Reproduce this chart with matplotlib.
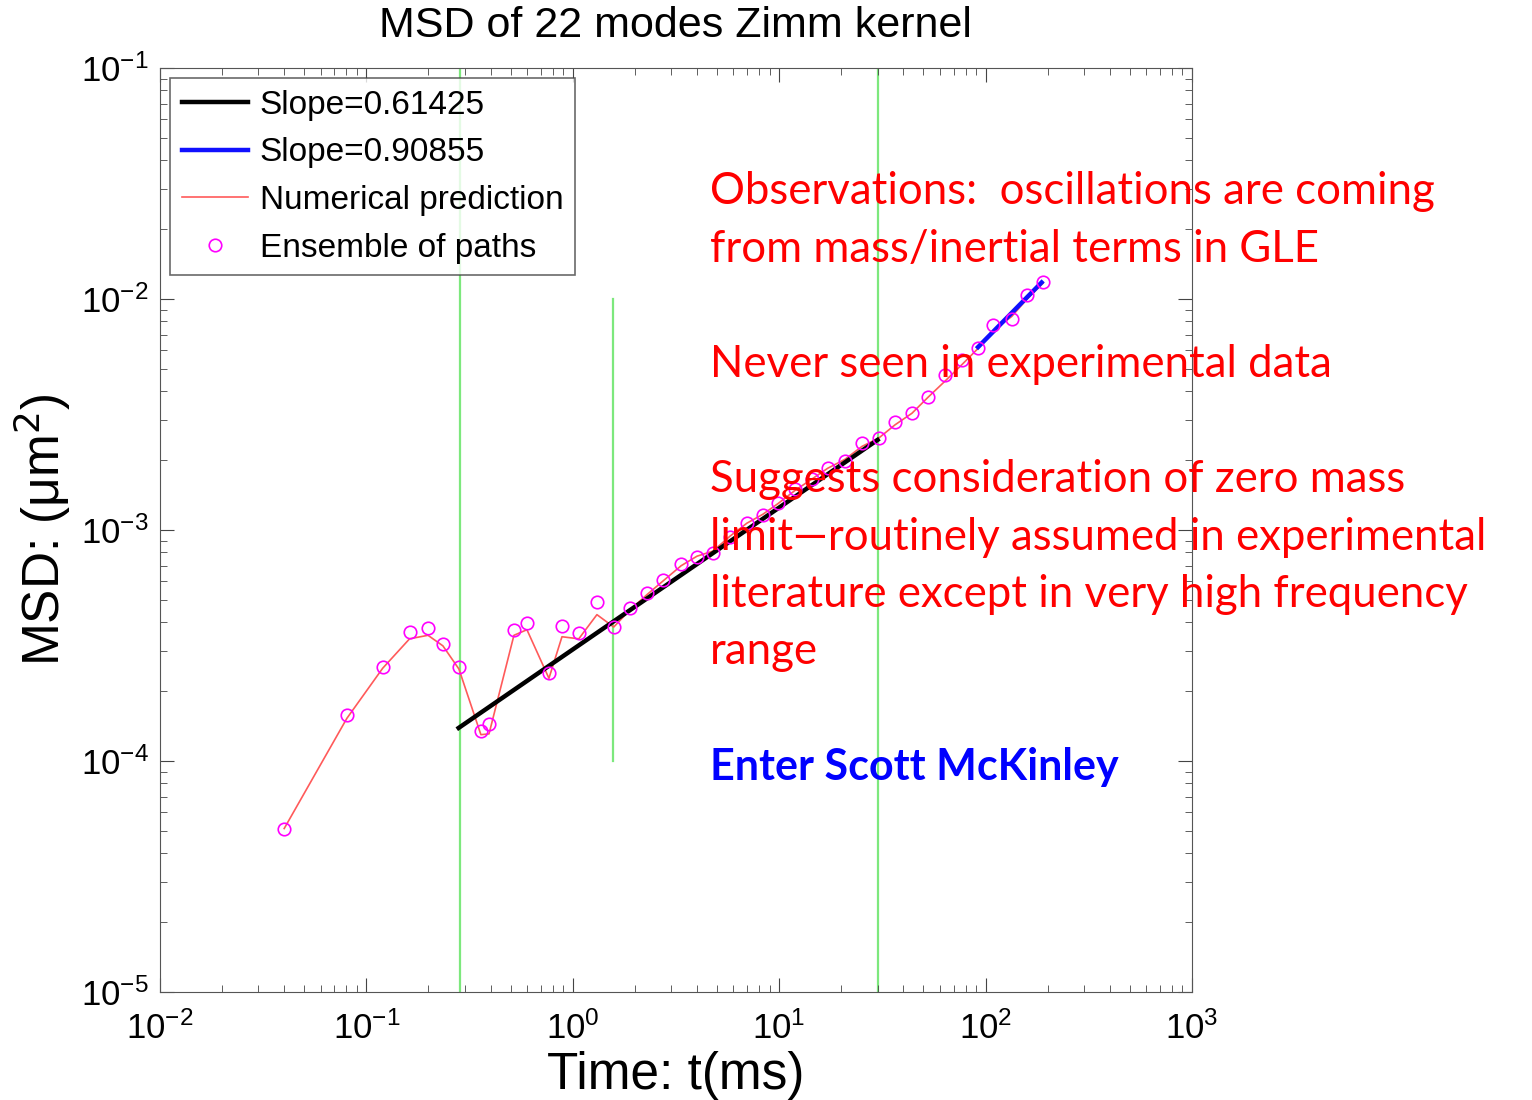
import matplotlib
matplotlib.use('Agg')
import matplotlib.pyplot as plt
import numpy as np

# ensemble-of-paths points (time in ms, MSD in um^2)
t_pts = [0.040, 0.0805, 0.120, 0.162, 0.199, 0.235, 0.281, 0.359, 0.393, 0.519,
         0.600, 0.767, 0.887, 1.07, 1.31, 1.58, 1.89, 2.29, 2.73, 3.35,
         4.0, 4.78, 5.78, 6.98, 8.35, 9.87, 11.9, 14.4, 17.2, 20.8,
         25.2, 30.4, 36.4, 44.0, 52.6, 63.5, 76.9, 91.9, 109, 134,
         159, 190]
msd_pts = [5.1e-5, 1.58e-4, 2.55e-4, 3.61e-4, 3.76e-4, 3.21e-4, 2.55e-4, 1.35e-4, 1.45e-4, 3.69e-4,
           3.95e-4, 2.40e-4, 3.84e-4, 3.58e-4, 4.88e-4, 3.80e-4, 4.59e-4, 5.33e-4, 6.08e-4, 7.13e-4,
           7.64e-4, 7.94e-4, 9.33e-4, 1.07e-3, 1.16e-3, 1.31e-3, 1.50e-3, 1.66e-3, 1.85e-3, 1.99e-3,
           2.38e-3, 2.50e-3, 2.94e-3, 3.21e-3, 3.77e-3, 4.69e-3, 5.44e-3, 6.14e-3, 7.71e-3, 8.19e-3,
           1.04e-2, 1.19e-2]

# numerical prediction (same time grid)
msd_pred = [5.1e-5, 1.53e-4, 2.52e-4, 3.38e-4, 3.50e-4, 3.15e-4, 2.50e-4, 1.30e-4, 1.31e-4, 3.50e-4,
            3.70e-4, 2.28e-4, 3.45e-4, 3.38e-4, 4.30e-4, 3.80e-4, 4.50e-4, 5.25e-4, 6.00e-4, 7.00e-4,
            7.70e-4, 8.10e-4, 9.40e-4, 1.07e-3, 1.17e-3, 1.30e-3, 1.48e-3, 1.66e-3, 1.85e-3, 2.02e-3,
            2.30e-3, 2.50e-3, 2.85e-3, 3.20e-3, 3.75e-3, 4.40e-3, 5.20e-3, 6.10e-3, 7.30e-3, 8.40e-3,
            1.00e-2, 1.17e-2]

# power-law fits
fit1_t = [0.28, 30.0]
fit1_slope = 0.61425
fit1_msd0 = 1.39e-4
fit2_t = [92.0, 187.0]
fit2_slope = 0.90855
fit2_msd0 = 6.19e-3

# green marker lines
vlines_full = [0.284, 30.1]
vline_short_t = 1.57
vline_short_y = [1e-4, 1e-2]

notes_red = ["Observations:  oscillations are coming",
             "from mass/inertial terms in GLE",
             "",
             "Never seen in experimental data",
             "",
             "Suggests consideration of zero mass",
             "limit\u2014routinely assumed in experimental",
             "literature except in very high frequency",
             "range"]
note_blue = "Enter Scott McKinley"

plt.rcParams['font.family'] = ['Liberation Sans', 'DejaVu Sans']

fig = plt.figure(figsize=(15.32, 11.0), dpi=100)
ax = fig.add_axes([0.1044, 0.0982, 0.6736, 0.8400])

green = '#7de87d'
for xv in vlines_full:
    ax.axvline(xv, color=green, lw=1.6, zorder=1)
ax.plot([vline_short_t, vline_short_t], vline_short_y, color=green, lw=1.6, zorder=1)

t1 = np.array(fit1_t)
ax.plot(t1, fit1_msd0 * (t1 / t1[0]) ** fit1_slope, color='black', lw=3.2,
        label='Slope=%.5f' % fit1_slope, zorder=3)
t2 = np.array(fit2_t)
ax.plot(t2, fit2_msd0 * (t2 / t2[0]) ** fit2_slope, color='#1010ff', lw=3.2,
        label='Slope=%.5f' % fit2_slope, zorder=3)
ax.plot(t_pts, msd_pred, color='#ff5a5a', lw=1.2, label='Numerical prediction', zorder=2)
ax.plot(t_pts, msd_pts, ls='none', marker='o', mfc='none', mec='#ff00ff', ms=9, mew=1.2,
        label='Ensemble of paths', zorder=4)

ax.set_xscale('log')
ax.set_yscale('log')
ax.set_xlim(1e-2, 1e3)
ax.set_ylim(1e-5, 1e-1)
ax.tick_params(which='both', direction='in', top=True, right=True, labelsize=25, color='#444444')
ax.tick_params(which='major', length=10)
ax.tick_params(which='minor', length=5)
ax.tick_params(axis='x', which='major', pad=14)
ax.tick_params(axis='y', which='major', pad=8)
for s in ax.spines.values():
    s.set_color('#555555')

ax.set_title('MSD of 22 modes Zimm kernel', fontsize=31, pad=22)
ax.set_xlabel('Time: t(ms)', fontsize=37, labelpad=4)
ax.set_ylabel('MSD: (\u03bcm$^2$)', fontsize=37, labelpad=6)

leg = ax.legend(loc='upper left', fontsize=24, frameon=True, fancybox=False,
                edgecolor='#444444', handlelength=2.0, handletextpad=0.35,
                borderaxespad=0.3, borderpad=0.35, labelspacing=0.5)
leg.get_frame().set_linewidth(1.2)

y0 = 1 - 192 / 1100
step = 57.5 / 1100
for i, line in enumerate(notes_red):
    if line:
        fig.text(710 / 1532, y0 - i * step, line, color='#ff0000', fontsize=31.5,
                 family=['Lato', 'DejaVu Sans'], va='center', ha='left')
fig.text(710 / 1532, 1 - 767 / 1100, note_blue, color='#0000ff', fontsize=31,
         fontweight='bold', family=['Lato', 'DejaVu Sans'], va='center', ha='left')

fig.savefig('out.png', dpi=100)
